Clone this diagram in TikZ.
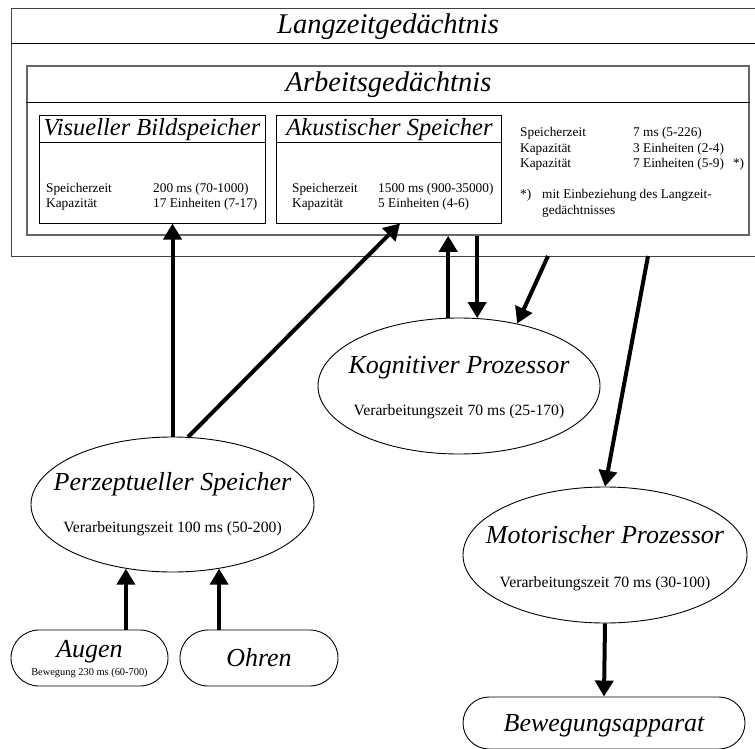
\documentclass[tikz,border=0pt]{standalone}
\usepackage{fontspec}
\setmainfont{Liberation Serif}
\usetikzlibrary{shapes,arrows.meta}
\def\hdfont{\fontsize{28.5}{32}\selectfont\itshape}
\def\bxfont{\fontsize{24.5}{28}\selectfont\itshape}
\def\prfont{\fontsize{26}{30}\selectfont\itshape}
\def\vzfont{\fontsize{15.7}{18}\selectfont}
\def\smfont{\fontsize{13.3}{15.5}\selectfont}
\def\tnfont{\fontsize{10.4}{12}\selectfont}

\begin{document}
\begin{tikzpicture}[x=1pt,y=-1pt,
  box/.style={draw,line width=1pt,inner sep=0pt},
  proc/.style={shape=ellipse,draw,line width=0.9pt,inner sep=0pt},
  organ/.style={shape=rounded rectangle,draw,line width=0.9pt,inner sep=0pt},
  arr/.style={line width=4pt,-{Triangle[width=18pt,length=16pt]}}]
\useasboundingbox (0,0) rectangle (755,749);

% Draw the boxes...
\node (ltm) at (385,132.5) [box,draw=black!75,minimum width=748,minimum height=247] {};
\draw[line width=1pt] (ltm.west |- 0,44) -- (ltm.east |- 0,44);
\node at (388,27) {\hdfont Langzeitgedächtnis};

\node (wm) at (388,150.5) [box,draw=black!60,line width=1.5pt,minimum width=722,minimum height=169] {};
\draw[line width=1pt] (wm.west |- 0,103) -- (wm.east |- 0,103);
\node at (388.5,85) {\hdfont Arbeitsgedächtnis};

\node (vis) at (152,169.5) [box,minimum width=226,minimum height=107] {};
\draw[line width=1pt] (vis.west |- 0,143) -- (vis.east |- 0,143);
\node at (152,130) {\bxfont Visueller Bildspeicher};
\node[anchor=west,inner sep=0pt] at (46,197) {\smfont\begin{tabular}{@{}p{107pt}@{}l@{}}
Speicherzeit & 200 ms (70-1000)\\
Kapazität & 17 Einheiten (7-17)
\end{tabular}};

\node (aku) at (388.5,169.5) [box,minimum width=225,minimum height=107] {};
\draw[line width=1pt] (aku.west |- 0,143) -- (aku.east |- 0,143);
\node at (389.5,130) {\bxfont Akustischer Speicher};
\node[anchor=west,inner sep=0pt] at (292,197) {\smfont\begin{tabular}{@{}p{86pt}@{}l@{}}
Speicherzeit & 1500 ms (900-35000)\\
Kapazität & 5 Einheiten (4-6)
\end{tabular}};

\node[anchor=west,inner sep=0pt] at (520,149) {\smfont\begin{tabular}{@{}p{113pt}@{}l@{}}
Speicherzeit & 7 ms (5-226)\\
Kapazität & 3 Einheiten (2-4)\\
Kapazität & 7 Einheiten (5-9)\hspace{9pt}*)
\end{tabular}};
\node[anchor=west,inner sep=0pt] at (520,203.5) {\smfont\begin{tabular}{@{}p{22pt}@{}l@{}}
*) & mit Einbeziehung des Langzeit-\\
 & gedächtnisses
\end{tabular}};

% Draw the processors...
\node (kog) at (459,386) [proc,minimum width=282,minimum height=136] {};
\node at (459,368) {\prfont Kognitiver Prozessor};
\node at (459,412) {\vzfont Verarbeitungszeit 70 ms (25-170)};

\node (perz) at (172.5,504.5) [proc,minimum width=283,minimum height=135] {};
\node at (172.5,484) {\prfont Perzeptueller Speicher};
\node at (172.5,529) {\vzfont Verarbeitungszeit 100 ms (50-200)};

\node (mot) at (605,555) [proc,minimum width=284,minimum height=136] {};
\node at (605,535) {\prfont Motorischer Prozessor};
\node at (605,584) {\vzfont Verarbeitungszeit 70 ms (30-100)};

\node (aug) at (89.5,658) [organ,minimum width=157,minimum height=56] {};
\node at (89.5,652) {\prfont Augen};
\node at (89.5,673) {\tnfont Bewegung 230 ms (60-700)};

\node (ohr) at (259,658) [organ,minimum width=158,minimum height=56] {};
\node at (259,658) {\prfont Ohren};

\node (bew) at (604,723) [organ,minimum width=282,minimum height=52] {};
\node at (604,726) {\prfont Bewegungsapparat};

% Draw the edges...
\coordinate (ltmA) at (548,256);
\coordinate (ltmB) at (648,256);
\draw[arr] (perz.north) -- (perz.north |- vis.south);
\draw[arr] (perz.77) -- ([xshift=11.5pt]aku.south);
\draw[arr] (kog.99) -- (kog.99 |- wm.south);
\draw[arr] (kog.75 |- wm.south) -- (kog.75);
\draw[arr] (ltmA) -- (kog.47);
\draw[arr] (ltmB) -- (mot.north);
\draw[arr] (mot.south) -- (bew.north);
\draw[arr] (perz.234 |- aug.north) -- (perz.234);
\draw[arr] (perz.306 |- ohr.north) -- (perz.306);

\end{tikzpicture}
\end{document}
